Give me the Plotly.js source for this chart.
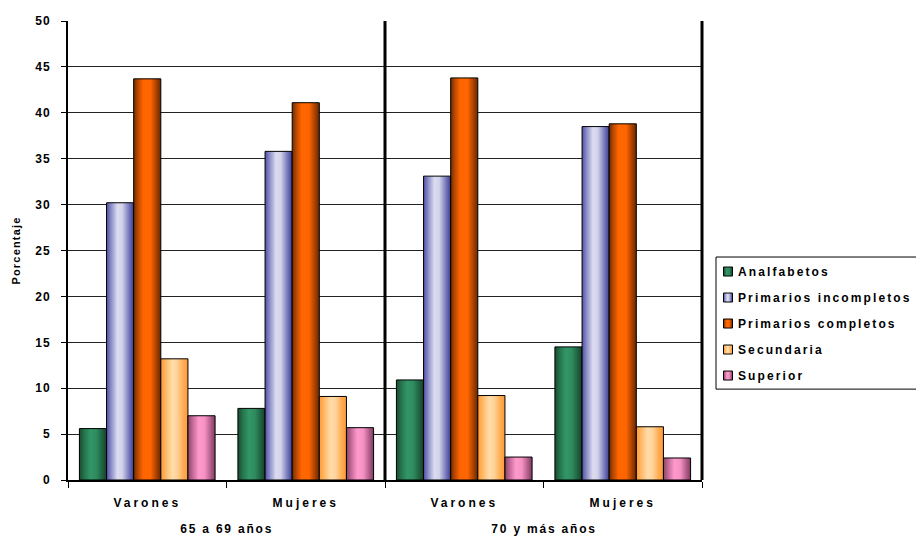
<!DOCTYPE html>
<html>
<head>
<meta charset="utf-8">
<script src="https://cdn.plot.ly/plotly-3.0.1.min.js"></script>
<style>
  body { margin: 0; background: #ffffff; }
  #chart { width: 916px; height: 537px; }
  #chart .xtick text { letter-spacing: 3px; }
  #chart .ytick text { letter-spacing: 1px; }
  #chart .legendtext { letter-spacing: 2.1px; }
  #chart .annotation-text { letter-spacing: 1.8px; }
  #chart .ytitle { letter-spacing: 1.2px; }
</style>
</head>
<body>
<div id="chart"></div>
<script>
// Age brackets and sex categories along the x axis
const ageGroups = ["65 a 69 años", "70 y más años"];
const sexLabels = ["Varones", "Mujeres", "Varones", "Mujeres"];
const categoryPos = [0, 1, 2, 3];

// Percentage of each education level per category
const seriesNames = ["Analfabetos", "Primarios incompletos", "Primarios completos", "Secundaria", "Superior"];
const analfabetos = [5.6, 7.8, 10.9, 14.5];
const primariosIncompletos = [30.2, 35.8, 33.1, 38.5];
const primariosCompletos = [43.7, 41.1, 43.8, 38.8];
const secundaria = [13.2, 9.1, 9.2, 5.8];
const superior = [7.0, 5.7, 2.5, 2.4];

const yTickVals = [0, 5, 10, 15, 20, 25, 30, 35, 40, 45, 50];

const seriesValues = [analfabetos, primariosIncompletos, primariosCompletos, secundaria, superior];
const baseColors = ["#2e8b5e", "#c8c8e6", "#ff6600", "#ffcc88", "#ff99cc"];

// Horizontal shading for each series (edge - centre - edge)
const shades = [
  [[0, "#1b4a30"], [0.18, "#25744d"], [0.4, "#339666"], [0.62, "#2f8c60"], [0.8, "#226a46"], [1, "#183f2a"]],
  [[0, "#4e50a0"], [0.15, "#8486c4"], [0.4, "#dcdcf0"], [0.58, "#d2d2ea"], [0.8, "#8082c0"], [1, "#3c3c94"]],
  [[0, "#6e2c00"], [0.15, "#b84800"], [0.35, "#ff6600"], [0.62, "#ff6600"], [0.82, "#b04400"], [1, "#662800"]],
  [[0, "#ff9933"], [0.18, "#ffb866"], [0.42, "#ffdcaa"], [0.6, "#ffd39a"], [0.82, "#ffad55"], [1, "#ff9933"]],
  [[0, "#8c4468"], [0.18, "#c46a98"], [0.4, "#ff99cc"], [0.62, "#f592c4"], [0.82, "#b86290"], [1, "#7e3c5e"]]
];

const font = { family: "Liberation Sans, Arial, sans-serif", size: 12, color: "#000000", weight: 700 };

const traces = seriesNames.map((name, i) => ({
  type: "bar",
  name: name,
  x: categoryPos,
  y: seriesValues[i],
  legendgroup: "g" + i,
  marker: { color: baseColors[i], line: { color: "#000000", width: 1 } },
  hoverinfo: "skip"
}));

const layout = {
  width: 916,
  height: 537,
  margin: { l: 68, r: 214, t: 21, b: 57 },
  paper_bgcolor: "#ffffff",
  plot_bgcolor: "#ffffff",
  font: font,
  barmode: "group",
  bargap: 0.144,
  bargroupgap: 0,
  showlegend: true,
  legend: {
    x: 1.0221, xanchor: "left",
    y: 0.4858, yanchor: "top",
    bgcolor: "rgba(0,0,0,0)",
    borderwidth: 0,
    tracegroupgap: 7,
    traceorder: "grouped",
    font: { family: font.family, size: 12, color: "#000000", weight: 700 }
  },
  xaxis: {
    range: [-0.5, 3.5],
    tickmode: "array",
    tickvals: categoryPos,
    ticktext: sexLabels,
    ticks: "",
    ticklabelstandoff: 11,
    showline: true,
    linecolor: "#000000",
    linewidth: 2,
    showgrid: false,
    zeroline: false,
    fixedrange: true,
    tickfont: { family: font.family, size: 12, color: "#000000", weight: 700 },
    minor: {
      tickmode: "array",
      tickvals: [-0.5, 0.5, 1.5, 2.5, 3.5],
      ticks: "outside",
      ticklen: 6,
      tickwidth: 1,
      tickcolor: "#000000",
      showgrid: false
    }
  },
  yaxis: {
    range: [0, 50],
    tickmode: "array",
    tickvals: yTickVals,
    ticks: "outside",
    ticklen: 5,
    tickwidth: 1,
    tickcolor: "#000000",
    ticklabelstandoff: 8,
    showline: true,
    linecolor: "#000000",
    linewidth: 2,
    showgrid: true,
    gridcolor: "#222222",
    gridwidth: 1,
    zeroline: false,
    fixedrange: true,
    tickfont: { family: font.family, size: 12, color: "#000000", weight: 700 },
    title: {
      text: "Porcentaje",
      standoff: 14,
      font: { family: font.family, size: 11, color: "#000000", weight: 700 }
    }
  },
  annotations: ageGroups.map((g, i) => ({
    text: g,
    x: i * 2 + 0.5,
    xref: "x",
    y: -0.107,
    yref: "paper",
    xanchor: "center",
    yanchor: "middle",
    showarrow: false,
    font: { family: font.family, size: 12, color: "#000000", weight: 700 }
  })),
  shapes: [
    // divider between the two age brackets
    { type: "line", xref: "x", yref: "paper", x0: 1.5, x1: 1.5, y0: 0, y1: 1,
      line: { color: "#000000", width: 3 } },
    // right edge of the plotting area
    { type: "line", xref: "paper", yref: "paper", x0: 1, x1: 1, y0: 0, y1: 1,
      line: { color: "#000000", width: 3 } },
    // legend frame
    { type: "rect", xref: "paper", yref: "paper", x0: 1.0221, x1: 1.5, y0: 0.198, y1: 0.4858,
      line: { color: "#000000", width: 1 }, fillcolor: "rgba(0,0,0,0)", layer: "below" }
  ]
};

const gd = document.getElementById("chart");
Plotly.newPlot(gd, traces, layout, { displayModeBar: false, staticPlot: true }).then(() => {
  const svgNS = "http://www.w3.org/2000/svg";
  const svg = gd.querySelector(".main-svg");
  let defs = svg.querySelector("defs");
  if (!defs) { defs = document.createElementNS(svgNS, "defs"); svg.insertBefore(defs, svg.firstChild); }

  shades.forEach((stops, i) => {
    const lg = document.createElementNS(svgNS, "linearGradient");
    lg.setAttribute("id", "shade" + i);
    lg.setAttribute("x1", "0"); lg.setAttribute("y1", "0");
    lg.setAttribute("x2", "1"); lg.setAttribute("y2", "0");
    stops.forEach(([off, col]) => {
      const s = document.createElementNS(svgNS, "stop");
      s.setAttribute("offset", off);
      s.setAttribute("stop-color", col);
      lg.appendChild(s);
    });
    defs.appendChild(lg);
  });

  // shaded fill for the bars
  gd.querySelectorAll(".barlayer .trace.bars").forEach((tr, i) => {
    tr.querySelectorAll("path").forEach(p => { p.style.fill = "url(#shade" + i + ")"; });
  });

  // let the legend run past its measured width
  gd.querySelectorAll(".legend, .legend .scrollbox").forEach(el => el.removeAttribute("clip-path"));

  // compact legend keys
  gd.querySelectorAll(".legend .traces").forEach((tr, i) => {
    tr.querySelectorAll(".legendpoints path").forEach(p => {
      p.setAttribute("d", "M4.5,4.5H-4.5V-4.5H4.5Z");
      p.setAttribute("transform", "translate(12,0)");
      p.style.fill = "url(#shade" + i + ")";
      p.style.stroke = "#000000";
      p.style.strokeWidth = "1px";
    });
    const t = tr.querySelector(".legendtext");
    if (t) {
      t.setAttribute("x", "22");
      t.querySelectorAll("tspan").forEach(s => { if (s.hasAttribute("x")) s.setAttribute("x", "22"); });
    }
  });
});
</script>
</body>
</html>
